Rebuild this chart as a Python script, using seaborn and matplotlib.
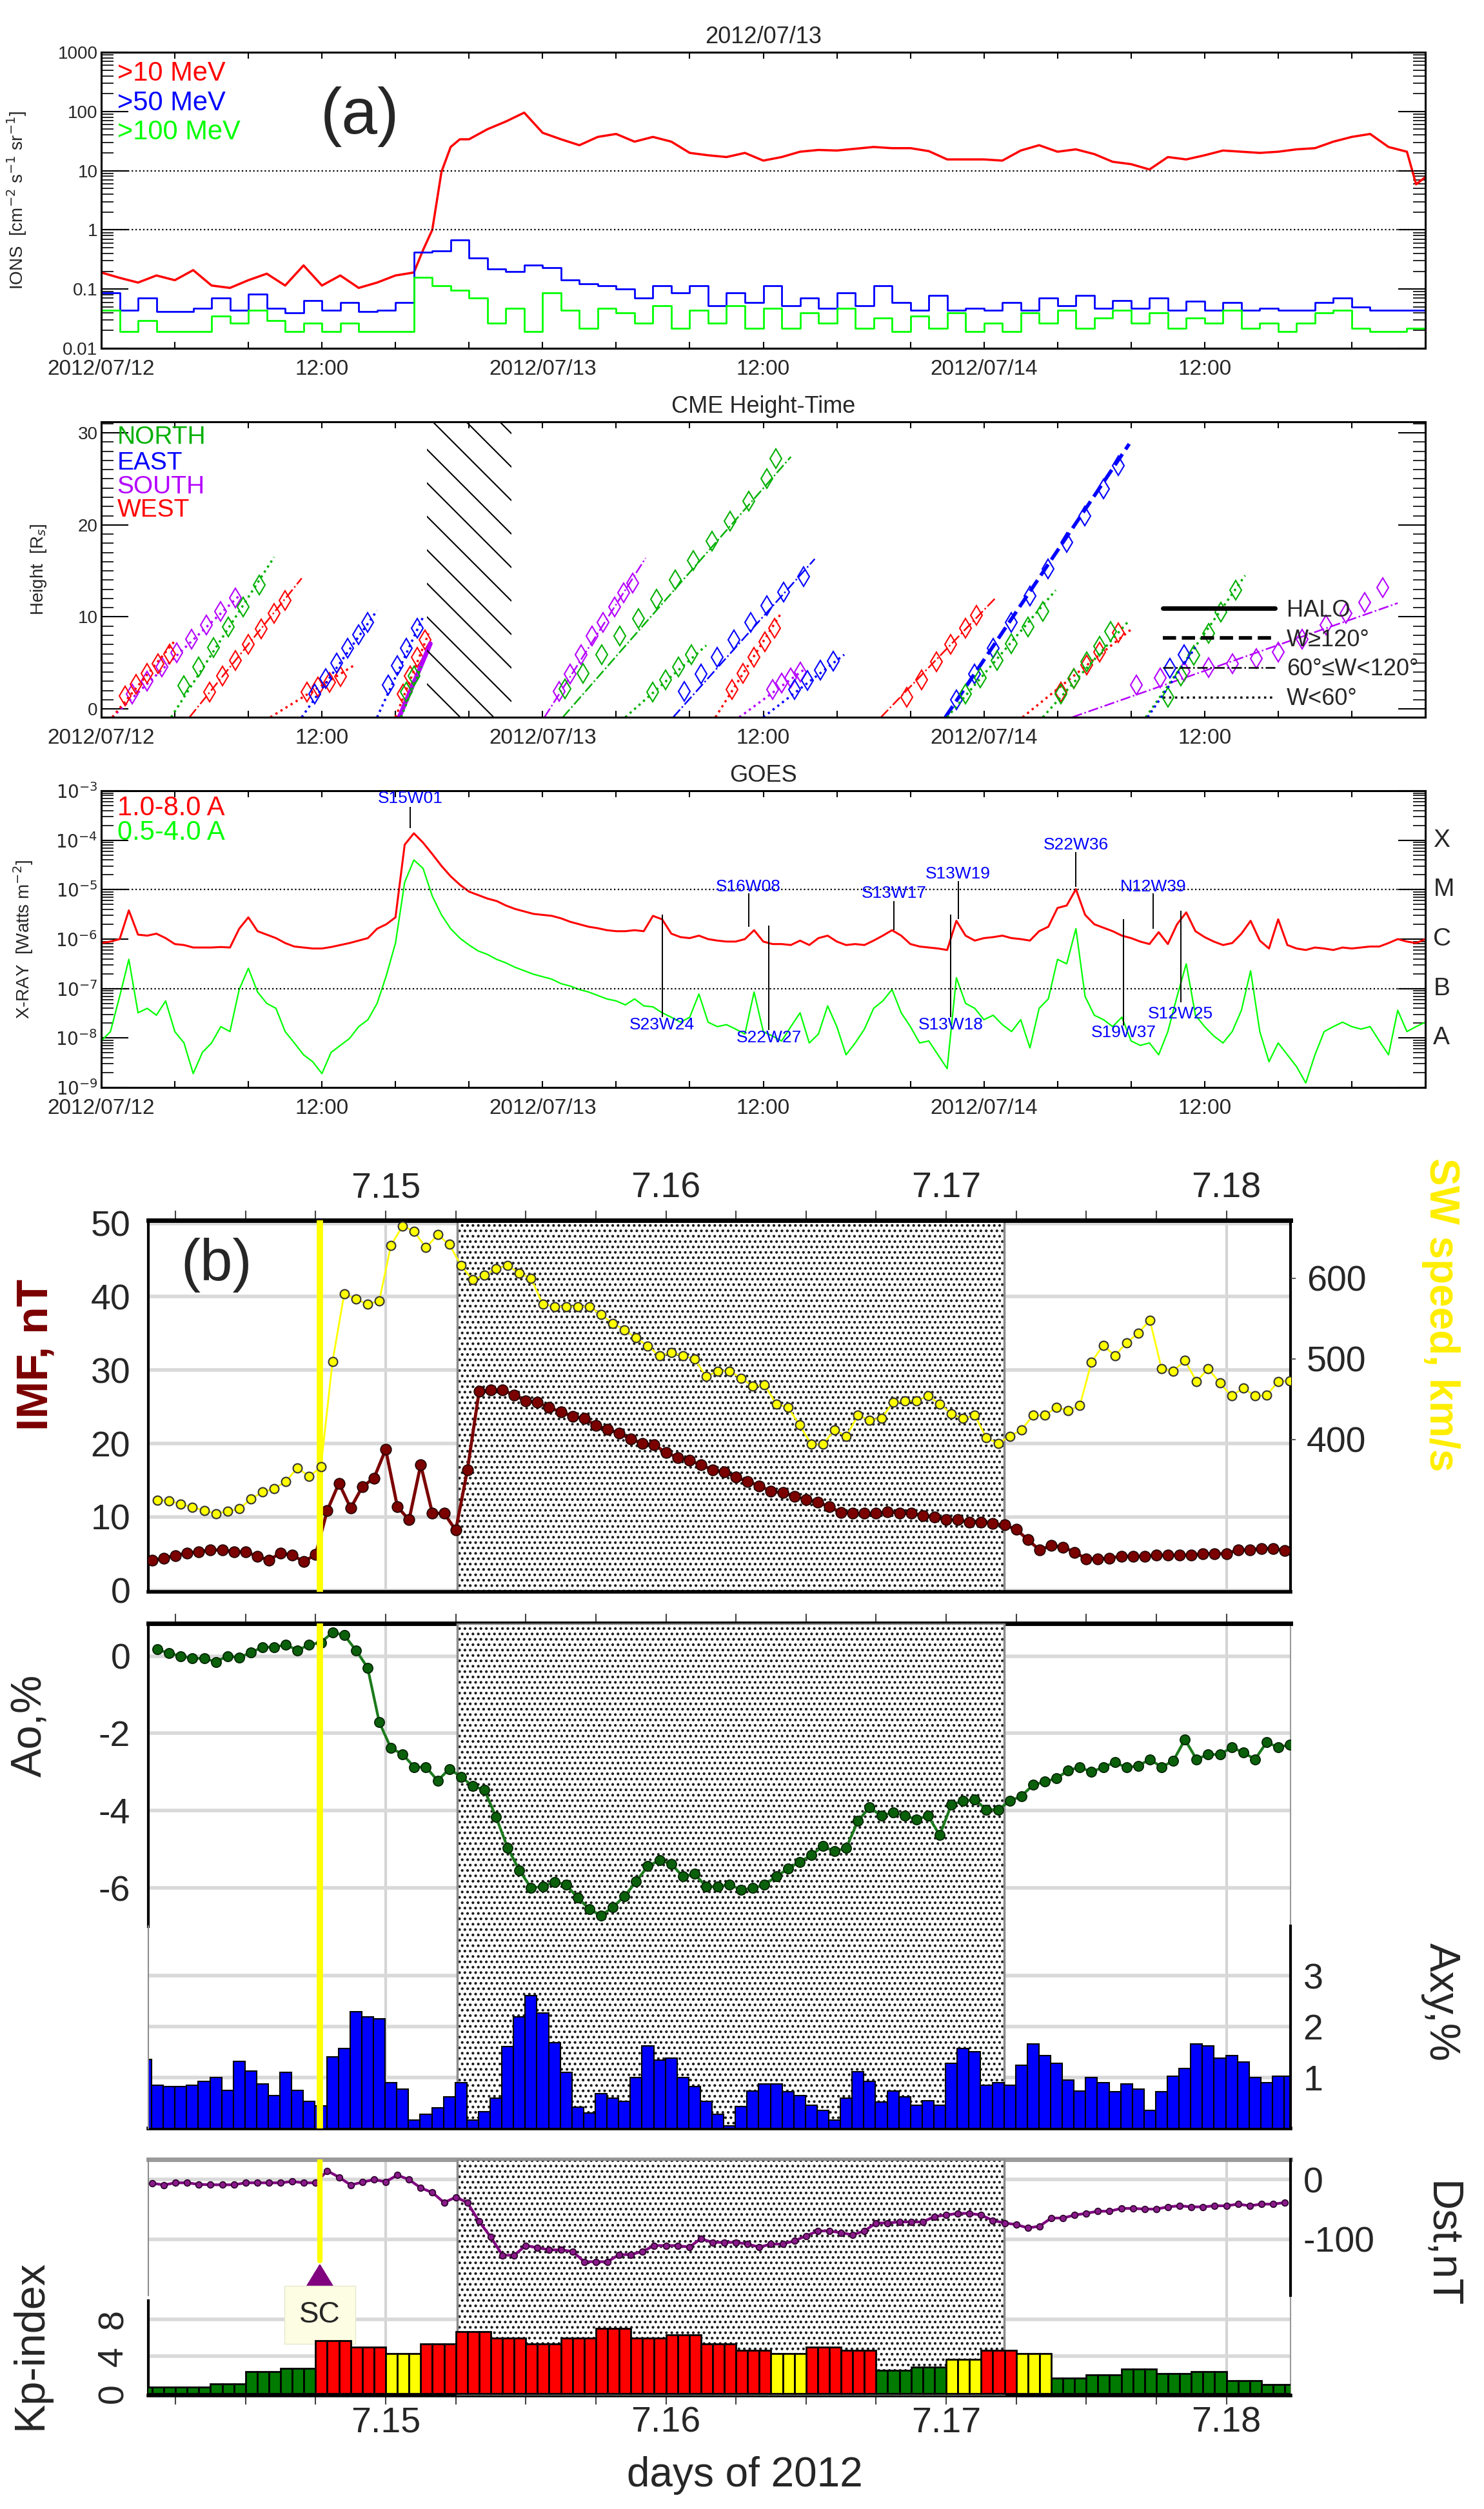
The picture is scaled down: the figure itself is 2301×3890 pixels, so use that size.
import numpy as np
import pandas as pd
import matplotlib.pyplot as plt
import matplotlib.transforms as mtransforms
from matplotlib.lines import Line2D
from matplotlib.patches import Rectangle
from matplotlib.ticker import MultipleLocator, NullFormatter
import seaborn as sns

# ---------------- panel (a) data : hours since 2012/07/12 00:00 ----------------
a_ticks = [0, 12, 24, 36, 48, 60, 72]
a_ticklabels = ['2012/07/12', '12:00', '2012/07/13', '12:00', '2012/07/14', '12:00', '']

# GOES protons (log10 of flux)
p10_hours = list(range(0, 18)) + [17.5, 18, 18.5, 19, 19.5] + list(range(20, 72)) + [71.5, 72]
p10_log = [-0.72, -0.81, -0.89, -0.77, -0.85, -0.68, -0.94, -0.98, -0.85, -0.74,
           -0.94, -0.60, -0.94, -0.77, -0.98, -0.89, -0.77, -0.72,
           -0.34, 0.0, 0.98, 1.40, 1.53,
           1.53, 1.70, 1.83, 1.98, 1.64, 1.53, 1.43, 1.57, 1.62, 1.49,
           1.57, 1.49, 1.30, 1.26, 1.23, 1.30, 1.17, 1.23, 1.32, 1.35,
           1.34, 1.37, 1.40, 1.38, 1.38, 1.33, 1.19, 1.19, 1.19, 1.17,
           1.34, 1.43, 1.32, 1.36, 1.28, 1.15, 1.11, 1.02, 1.23, 1.19,
           1.26, 1.34, 1.32, 1.30, 1.32, 1.36, 1.38, 1.49, 1.57, 1.62,
           1.40, 1.32,
           0.77, 0.89]
p_hours = list(range(0, 73))
p50_log = [-1.06, -1.36, -1.15, -1.38, -1.38, -1.32, -1.15, -1.36, -1.09, -1.32,
           -1.40, -1.19, -1.36, -1.23, -1.38, -1.36, -1.23, -0.38, -0.36, -0.17,
           -0.47, -0.66, -0.70, -0.60, -0.64, -0.85, -0.91, -0.94, -1.00, -1.15,
           -0.94, -1.06, -0.94, -1.28, -1.06, -1.23, -0.94, -1.28, -1.15, -1.32,
           -1.06, -1.28, -0.94, -1.23, -1.36, -1.11, -1.36, -1.32, -1.36, -1.23,
           -1.36, -1.15, -1.28, -1.11, -1.32, -1.19, -1.32, -1.15, -1.36, -1.21,
           -1.36, -1.23, -1.36, -1.32, -1.36, -1.36, -1.23, -1.15, -1.30, -1.36,
           -1.36, -1.36, -1.30]
p100_log = [-1.36, -1.72, -1.53, -1.72, -1.72, -1.72, -1.45, -1.57, -1.36, -1.53,
            -1.72, -1.57, -1.72, -1.57, -1.72, -1.72, -1.72, -0.80, -0.94, -1.02,
            -1.15, -1.57, -1.32, -1.72, -1.06, -1.36, -1.66, -1.32, -1.40, -1.57,
            -1.28, -1.66, -1.36, -1.57, -1.28, -1.66, -1.32, -1.66, -1.40, -1.57,
            -1.32, -1.66, -1.49, -1.72, -1.45, -1.66, -1.40, -1.72, -1.57, -1.72,
            -1.40, -1.57, -1.36, -1.66, -1.49, -1.36, -1.57, -1.40, -1.66, -1.49,
            -1.57, -1.36, -1.66, -1.57, -1.72, -1.57, -1.40, -1.36, -1.66, -1.72,
            -1.72, -1.66, -1.53]
ion_ticks = [0.01, 0.1, 1, 10, 100, 1000]
ion_ticklabels = ['0.01', '0.1', '1', '10', '100', '1000']

# GOES X-ray, half-hourly (log10 W m^-2)
xray_hours = np.arange(0, 72.5, 0.5)
xray_long_log = [-6.08, -6.05, -6.00, -5.42, -5.91, -5.93, -5.89, -5.98, -6.10, -6.12,
                 -6.17, -6.17, -6.17, -6.16, -6.17, -5.79, -5.56, -5.84, -5.91, -5.98,
                 -6.08, -6.15, -6.17, -6.19, -6.19, -6.16, -6.12, -6.08, -6.03, -5.98,
                 -5.79, -5.70, -5.56, -4.09, -3.86, -4.05, -4.28, -4.52, -4.73, -4.90,
                 -5.04, -5.11, -5.18, -5.23, -5.32, -5.39, -5.44, -5.49, -5.51, -5.53,
                 -5.58, -5.65, -5.70, -5.75, -5.78, -5.82, -5.84, -5.84, -5.82, -5.84,
                 -5.53, -5.60, -5.89, -5.96, -5.98, -5.93, -6.00, -6.03, -6.05, -6.05,
                 -6.00, -5.82, -6.05, -6.10, -6.10, -6.12, -6.03, -6.12, -5.98, -5.93,
                 -6.05, -6.12, -6.10, -6.12, -6.03, -5.93, -5.82, -5.93, -6.10, -6.15,
                 -6.17, -6.19, -6.22, -5.63, -5.93, -6.03, -5.98, -5.96, -5.93, -5.98,
                 -6.00, -6.03, -5.84, -5.75, -5.37, -5.32, -4.99, -5.51, -5.70, -5.77,
                 -5.84, -5.93, -5.98, -6.05, -6.10, -5.86, -6.10, -5.70, -5.46, -5.84,
                 -5.96, -6.05, -6.12, -6.08, -5.89, -5.63, -6.03, -6.19, -5.60, -6.12,
                 -6.19, -6.22, -6.17, -6.19, -6.22, -6.17, -6.19, -6.17, -6.15, -6.15,
                 -6.08, -6.00, -6.05, -6.08, -6.00]
xray_short_log = [-8.06, -7.87, -7.16, -6.41, -7.49, -7.40, -7.54, -7.25, -7.87, -8.10,
                  -8.72, -8.29, -8.10, -7.77, -7.87, -7.02, -6.59, -7.07, -7.30, -7.40,
                  -7.87, -8.10, -8.34, -8.48, -8.72, -8.29, -8.15, -8.01, -7.77, -7.63,
                  -7.30, -6.74, -6.08, -4.85, -4.40, -4.57, -5.13, -5.51, -5.79, -5.98,
                  -6.12, -6.24, -6.31, -6.41, -6.48, -6.57, -6.64, -6.71, -6.76, -6.81,
                  -6.90, -6.95, -7.02, -7.07, -7.14, -7.21, -7.25, -7.33, -7.21, -7.35,
                  -7.37, -7.49, -7.58, -7.68, -7.58, -7.11, -7.68, -7.77, -7.73, -7.82,
                  -7.92, -7.07, -7.87, -7.96, -8.06, -7.77, -7.49, -8.10, -7.92, -7.35,
                  -7.77, -8.34, -8.10, -7.82, -7.40, -7.25, -7.02, -7.49, -7.77, -8.10,
                  -8.06, -8.34, -8.62, -6.78, -7.30, -7.40, -7.63, -7.54, -7.73, -7.87,
                  -7.63, -8.20, -7.40, -7.21, -6.41, -6.50, -5.79, -7.16, -7.54, -7.63,
                  -7.77, -7.58, -8.06, -8.15, -8.10, -8.34, -7.87, -7.16, -6.50, -7.54,
                  -7.77, -7.96, -8.10, -7.87, -7.44, -6.64, -7.87, -8.48, -8.10, -8.34,
                  -8.58, -8.91, -8.34, -7.87, -7.77, -7.68, -7.77, -7.82, -7.77, -8.06,
                  -8.34, -7.44, -7.87, -7.77, -7.68]
goes_ticks = [1e-9, 1e-8, 1e-7, 1e-6, 1e-5, 1e-4, 1e-3]
goes_ticklabels = ['$10^{-9}$', '$10^{-8}$', '$10^{-7}$', '$10^{-6}$', '$10^{-5}$', '$10^{-4}$', '$10^{-3}$']
goes_classes = ['A', 'B', 'C', 'M', 'X']
goes_class_flux = [1e-8, 1e-7, 1e-6, 1e-5, 1e-4]

# flare locations: name, time, label level, connector from/to (log10 flux)
flare_names = ['S15W01', 'S16W08', 'S13W17', 'S13W19', 'S22W36', 'N12W39',
               'S23W24', 'S22W27', 'S13W18', 'S19W37', 'S12W25']
flare_t = [16.8, 35.2, 43.1, 46.6, 53.0, 57.2, 30.5, 36.3, 46.2, 55.6, 58.7]
flare_label_log = [-3.15, -4.94, -5.08, -4.68, -4.09, -4.94, -7.73, -7.99, -7.73, -7.89, -7.51]
flare_line_from = [-3.32, -5.08, -5.23, -4.83, -4.24, -5.08, -7.58, -7.84, -7.58, -7.75, -7.28]
flare_line_to = [-3.76, -5.75, -5.82, -5.60, -4.94, -5.79, -5.51, -5.72, -5.51, -5.60, -5.42]

# CME height-time tracks (hours, solar radii)
cme_region = ['S', 'W', 'N', 'W', 'W', 'E', 'E', 'W', 'S', 'N', 'S', 'N', 'N',
              'E', 'W', 'S', 'E', 'W', 'E', 'N', 'W', 'N', 'S', 'N', 'E']
cme_width = ['narrow', 'narrow', 'narrow', 'mid', 'narrow', 'narrow', 'narrow', 'narrow',
             'halo', 'narrow', 'mid', 'mid', 'narrow', 'mid', 'narrow', 'narrow', 'narrow',
             'mid', 'wide', 'narrow', 'narrow', 'narrow', 'mid', 'narrow', 'narrow']
cme_obs_t = [[1.7, 2.5, 3.3, 4.1, 4.9, 5.7, 6.5, 7.3],
             [1.3, 1.9, 2.5, 3.1, 3.7],
             [4.5, 5.3, 6.1, 6.9, 7.7, 8.6],
             [5.9, 6.6, 7.3, 8.0, 8.7, 9.4, 10.0],
             [11.2, 11.8, 12.4, 13.0],
             [11.6, 12.2, 12.8, 13.4, 14.0, 14.5],
             [15.6, 16.1, 16.6, 17.2],
             [16.4, 16.8, 17.2, 17.6],
             [],
             [16.6, 17.0],
             [24.9, 25.5, 26.1, 26.7, 27.3, 27.9, 28.4, 28.9],
             [25.2, 26.2, 27.2, 28.2, 29.2, 30.2, 31.2, 32.2, 33.2, 34.2, 35.2, 36.2, 36.7],
             [30.0, 30.7, 31.4, 32.1],
             [31.7, 32.6, 33.5, 34.4, 35.3, 36.2, 37.1, 38.2],
             [34.3, 34.9, 35.5, 36.1, 36.6],
             [36.5, 37.0, 37.5, 38.0],
             [37.7, 38.4, 39.1, 39.8],
             [43.8, 44.6, 45.4, 46.2, 47.0, 47.6],
             [46.5, 47.5, 48.5, 49.5, 50.5, 51.5, 52.5, 53.5, 54.5, 55.3],
             [47.0, 47.8, 48.7, 49.5, 50.4, 51.2],
             [52.2, 52.9, 53.6, 54.3, 55.3],
             [52.2, 52.9, 53.6, 54.3, 54.9],
             [56.3, 57.6, 58.9, 60.2, 61.5, 62.8, 64.0, 65.3, 66.6, 67.7, 68.7, 69.7],
             [58.0, 58.7, 59.4, 60.2, 60.9, 61.7],
             [58.1, 58.9]]
cme_obs_h = [[1.6, 3.0, 4.6, 6.1, 7.6, 9.1, 10.6, 12.1],
             [1.4, 2.7, 3.9, 4.9, 6.0],
             [2.5, 4.6, 6.7, 8.9, 11.1, 13.5],
             [1.8, 3.6, 5.3, 7.0, 8.7, 10.4, 11.8],
             [1.8, 2.4, 2.9, 3.5],
             [1.6, 3.3, 5.0, 6.6, 8.1, 9.4],
             [2.6, 4.7, 6.6, 8.8],
             [1.6, 3.6, 5.6, 7.5],
             [],
             [1.8, 3.6],
             [1.9, 3.8, 5.9, 7.9, 9.4, 11.1, 12.6, 13.7],
             [2.2, 3.9, 5.9, 7.9, 9.8, 11.9, 14.0, 16.1, 18.2, 20.4, 22.6, 25.0, 27.2],
             [1.8, 3.2, 4.6, 5.9],
             [1.9, 3.8, 5.6, 7.5, 9.4, 11.2, 12.7, 14.4],
             [2.1, 3.9, 5.6, 7.3, 8.8],
             [2.1, 2.8, 3.4, 4.0],
             [2.1, 3.1, 4.2, 5.2],
             [1.3, 3.2, 5.1, 7.0, 8.8, 10.2],
             [1.0, 3.8, 6.6, 9.4, 12.3, 15.2, 18.1, 21.0, 23.9, 26.4],
             [1.6, 3.4, 5.3, 7.1, 8.9, 10.6],
             [1.8, 3.3, 4.8, 6.2, 8.3],
             [1.6, 3.3, 5.1, 6.8, 8.4],
             [2.6, 3.4, 4.1, 4.5, 4.9, 5.5, 6.2, 7.6, 9.1, 10.4, 11.6, 13.2],
             [1.3, 3.6, 5.8, 8.2, 10.5, 12.9],
             [4.4, 5.9]]
cme_fit_t = [[0.6, 7.5], [0.6, 4.0], [3.8, 9.4], [4.8, 10.9], [9.2, 13.8], [10.9, 15.0],
             [15.0, 17.5], [16.0, 17.8], [16.2, 17.9], [16.3, 17.4], [24.1, 29.6], [25.1, 37.5],
             [28.5, 32.9], [31.1, 38.8], [33.4, 37.0], [34.7, 38.3], [36.0, 40.4], [42.4, 48.6],
             [45.9, 55.9], [46.0, 51.9], [50.1, 56.1], [51.2, 55.8], [52.8, 70.5], [56.8, 62.2],
             [56.9, 59.5]]
cme_fit_h = [[-0.9, 12.3], [-0.9, 7.4], [-0.9, 16.5], [-0.9, 14.2], [-0.9, 4.8], [-0.9, 10.7],
             [-0.9, 10.0], [-0.9, 8.2], [-0.9, 7.1], [-0.9, 4.6], [-0.9, 16.4], [-0.9, 27.4],
             [-0.9, 6.9], [-0.9, 16.3], [-0.9, 10.5], [-0.9, 4.4], [-0.9, 5.9], [-0.9, 12.0],
             [-0.9, 28.8], [-0.9, 12.9], [-0.9, 8.8], [-0.9, 9.4], [-0.9, 11.5], [-0.9, 14.5],
             [-0.9, 6.7]]
lasco_gap = (17.7, 22.3)
region_names = ['NORTH', 'EAST', 'SOUTH', 'WEST']
region_keys = ['N', 'E', 'S', 'W']
width_keys = ['halo', 'wide', 'mid', 'narrow']
width_names = ['HALO', 'W\u2265120\u00b0', '60\u00b0\u2264W<120\u00b0', 'W<60\u00b0']

# ---------------- panel (b) data : day of July 2012 ----------------
day_ticks = [15, 16, 17, 18]
day_labels = ['7.15', '7.16', '7.17', '7.18']
storm = (15.255, 17.206)
sc_time = 14.765

imf_nt = [4.1, 4.4, 4.75, 5.1, 5.25, 5.5, 5.5, 5.25, 5.25, 4.65,
          4.1, 5.1, 4.8, 3.9, 4.9, 10.9, 14.6, 11.2, 14.1, 15.3,
          19.2, 11.4, 9.6, 17.1, 10.5, 10.5, 8.2, 16.4, 27.1, 27.3,
          27.3, 26.6, 25.8, 25.6, 24.9, 24.3, 23.7, 23.4, 22.5, 21.9,
          21.4, 20.6, 20.0, 19.8, 18.8, 18.1, 17.7, 17.1, 16.4, 16.1,
          15.4, 14.85, 14.25, 13.5, 13.3, 12.8, 12.4, 12.0, 11.4, 10.6,
          10.5, 10.5, 10.5, 10.7, 10.5, 10.5, 10.2, 10.0, 9.6, 9.6,
          9.3, 9.3, 9.1, 8.9, 8.3, 6.9, 5.5, 6.1, 5.9, 5.2,
          4.3, 4.3, 4.4, 4.65, 4.65, 4.65, 4.8, 4.8, 4.8, 4.8,
          5.0, 5.0, 5.0, 5.5, 5.5, 5.7, 5.7, 5.4]
sw_speed = [325, 324, 320, 316, 312, 308, 311, 314, 326, 335,
            339, 348, 365, 354, 366, 497, 581, 574, 568, 572,
            641, 665, 658, 638, 654, 642, 616, 598, 604, 612,
            616, 606, 600, 568, 565, 565, 565, 565, 555, 544,
            536, 526, 516, 504, 508, 504, 500, 478, 485, 485,
            476, 466, 468, 444, 440, 418, 394, 394, 412, 404,
            430, 424, 426, 446, 448, 448, 454, 444, 432, 426,
            430, 402, 395, 404, 412, 430, 430, 440, 436, 442,
            496, 517, 504, 520, 532, 548, 488, 485, 498, 472,
            488, 470, 454, 464, 454, 455, 472, 473]
ao_pct = [0.17, 0.07, 0.0, -0.06, -0.06, -0.15, 0.0, -0.04, 0.09, 0.23,
          0.23, 0.29, 0.15, 0.29, 0.35, 0.61, 0.54, 0.15, -0.30, -1.71,
          -2.38, -2.54, -2.87, -2.87, -3.22, -2.92, -3.12, -3.36, -3.46, -4.16,
          -4.96, -5.54, -5.99, -5.96, -5.84, -5.91, -6.25, -6.54, -6.71, -6.49,
          -6.21, -5.83, -5.43, -5.28, -5.37, -5.70, -5.63, -5.96, -5.96, -5.91,
          -6.04, -6.00, -5.91, -5.70, -5.50, -5.32, -5.15, -4.91, -5.05, -4.96,
          -4.26, -3.91, -4.13, -4.04, -4.13, -4.22, -4.13, -4.63, -3.84, -3.75,
          -3.71, -3.97, -3.97, -3.75, -3.62, -3.33, -3.25, -3.16, -2.96, -2.87,
          -3.00, -2.87, -2.75, -2.88, -2.84, -2.67, -2.87, -2.71, -2.16, -2.67,
          -2.54, -2.55, -2.36, -2.49, -2.67, -2.23, -2.36, -2.29]
axy_pct = [1.36,
           0.85, 0.82, 0.82, 0.85, 0.93, 1.0, 0.75, 1.32, 1.13, 0.88,
           0.65, 1.10, 0.75, 0.53, 0.44, 1.41, 1.57, 2.30, 2.20, 2.15,
           0.90, 0.77, 0.16, 0.28, 0.41, 0.62, 0.90, 0.16, 0.33, 0.59,
           1.61, 2.20, 2.61, 2.27, 1.69, 1.10, 0.42, 0.30, 0.68, 0.59,
           0.53, 1.0, 1.62, 1.35, 1.38, 1.0, 0.82, 0.53, 0.28, 0.05,
           0.43, 0.74, 0.87, 0.87, 0.72, 0.65, 0.46, 0.36, 0.16, 0.59,
           1.12, 0.93, 0.52, 0.74, 0.62, 0.46, 0.55, 0.46, 1.28, 1.57,
           1.51, 0.85, 0.90, 0.85, 1.24, 1.66, 1.43, 1.28, 0.95, 0.74,
           1.0, 0.90, 0.72, 0.87, 0.77, 0.36, 0.72, 1.03, 1.18, 1.66,
           1.62, 1.38, 1.43, 1.31, 1.0, 0.90, 1.03, 1.03]
dst_nt = [-6, -9, -5.4, -5.4, -8, -8.7, -8.7, -8.7, -5.4, -5.4,
          -5.4, -5.4, -3.2, -5.4, -5.4, 14.8, 4, -9, -4.3, 0,
          -3.6, 7.6, 0, -14, -21.7, -38.6, -29.6, -38.6, -70.4, -96.4,
          -127, -127, -110.8, -114.4, -118, -118, -120.6, -137.9, -137.9, -137.9,
          -126, -126, -120.6, -110.8, -110.8, -110.8, -113.4, -99.3, -105.4, -105.4,
          -105.4, -108.3, -113.4, -108.3, -108.3, -102.9, -94.6, -86.3, -86.3, -89.2,
          -92.8, -86.3, -72.9, -72.9, -71.1, -71.1, -71.1, -62.1, -59.6, -56.7,
          -56.7, -59.6, -68.6, -72.9, -75.5, -81.2, -78.3, -64.6, -64.6, -59.6,
          -56.7, -53.1, -53.1, -48.4, -48.4, -49.5, -49.5, -45.8, -44.0, -45.8,
          -45.8, -44.0, -44.0, -41.2, -44.0, -41.2, -41.2, -38.6]
# 3-hour Kp, from 14 July 03 UT
kp_index = [0.67, 0.67, 1.0, 2.33, 2.67, 5.67, 5.0,
            4.33, 5.33, 6.67, 6.0, 5.33, 6.0, 7.0, 6.0,
            6.33, 5.33, 4.67, 4.33, 5.0, 4.67, 2.5, 2.84,
            3.67, 4.67, 4.33, 1.67, 2.0, 2.6, 2.14, 2.37,
            1.4, 0.93]

# ---------------- style ----------------
sns.set_theme(style='white')
plt.rcParams['font.family'] = ['Liberation Sans', 'DejaVu Sans']
plt.rcParams['axes.unicode_minus'] = False
plt.rcParams['hatch.linewidth'] = 1.8

W, H = 2301, 3890
fig = plt.figure(figsize=(W / 100, H / 100), dpi=100)


def frame(left, top, right, bottom):
    return [left / W, 1 - bottom / H, (right - left) / W, (bottom - top) / H]


def style_idl(ax):
    ax.set_xlim(0, 72)
    ax.set_xticks(a_ticks, labels=a_ticklabels)
    ax.set_xticks(range(0, 73, 4), minor=True)
    ax.tick_params(axis='x', which='both', direction='in', top=True, bottom=True,
                   length=7, width=1.5, color='black', labelsize=24, pad=12)
    ax.tick_params(axis='y', which='major', direction='in', left=True, right=True,
                   length=30, width=1.5, color='black', labelsize=20, pad=4)
    ax.tick_params(axis='y', which='minor', direction='in', left=True, right=True,
                   length=14, width=1.2, color='black')
    for sp in ax.spines.values():
        sp.set_color('black')
        sp.set_linewidth(2.2)


def line(ax, x, y, **kw):
    sns.lineplot(x=np.asarray(x, float), y=np.asarray(y, float), ax=ax,
                 estimator=None, errorbar=None, sort=False, **kw)


# ---------------- (a) ions ----------------
ax_ion = fig.add_axes(frame(157, 81, 2210, 540))
line(ax_ion, p10_hours, 10.0 ** np.array(p10_log), color='#ff0000', linewidth=2.5)
line(ax_ion, p_hours, 10.0 ** np.array(p50_log), color='#0000ff', linewidth=2, drawstyle='steps-post')
line(ax_ion, p_hours, 10.0 ** np.array(p100_log), color='#00ff00', linewidth=2, drawstyle='steps-post')
ax_ion.set_yscale('log')
ax_ion.set_ylim(0.01, 1000)
ax_ion.set_yticks(ion_ticks, labels=ion_ticklabels)
ax_ion.yaxis.set_minor_formatter(NullFormatter())
for lev in [1, 10]:
    ax_ion.axhline(lev, color='black', ls=':', lw=1.6)
style_idl(ax_ion)
ax_ion.set_title('2012/07/13', fontsize=26, pad=10)
ax_ion.set_ylabel('IONS  [cm$^{-2}$ s$^{-1}$ sr$^{-1}$]', fontsize=20)
ax_ion.yaxis.set_label_coords(-0.055, 0.5)
for txt, yy, col in zip(['>10 MeV', '>50 MeV', '>100 MeV'], [0.928, 0.828, 0.73],
                        ['#ff0000', '#0000ff', '#00ff00']):
    ax_ion.text(0.012, yy, txt, color=col, fontsize=30, transform=ax_ion.transAxes, va='center')
fig.text(558 / W, 1 - 181 / H, '(a)', fontsize=72, ha='center', va='center')

# ---------------- (a) CME height-time ----------------
region_color = dict(zip(region_keys, ['#00b000', '#0000ff', '#b400ff', '#ff0000']))
width_style = dict(zip(width_keys, [('-', 5), ('--', 4), ('-.', 1.8), (':', 2.5)]))

ax_cme = fig.add_axes(frame(157, 654, 2210, 1112))
for reg, wid, ot, oh, ft, fh in zip(cme_region, cme_width, cme_obs_t, cme_obs_h, cme_fit_t, cme_fit_h):
    col = region_color[reg]
    ls, lw = width_style[wid]
    ax_cme.plot(ft, fh, color=col, ls=ls, lw=lw)
    if ot:
        ax_cme.plot(ot, oh, ls='none', marker='d', ms=15, mfc='none', mec=col, mew=1.5)

# data gap hatching
gap_box = Rectangle((lasco_gap[0], -0.9), lasco_gap[1] - lasco_gap[0], 32.1, fill=False, lw=0)
ax_cme.add_patch(gap_box)
span = lasco_gap[1] - lasco_gap[0]
for c in np.arange(-0.9, 31.2 + 2.0 * span, 3.64):
    ln, = ax_cme.plot(lasco_gap, [c, c - 2.0 * span], color='black', lw=1.5)
    ln.set_clip_path(gap_box)

ax_cme.set_ylim(-0.9, 31.2)
ax_cme.set_yticks([0, 10, 20, 30])
ax_cme.yaxis.set_minor_locator(MultipleLocator(1))
style_idl(ax_cme)
ax_cme.set_title('CME Height-Time', fontsize=26, pad=10)
ax_cme.set_ylabel('Height  [R$_s$]', fontsize=20)
ax_cme.yaxis.set_label_coords(-0.04, 0.5)
for name, key, yy in zip(region_names, region_keys, [0.948, 0.86, 0.78, 0.70]):
    ax_cme.text(0.012, yy, name, color=region_color[key], fontsize=28,
                transform=ax_cme.transAxes, va='center')
handles = [Line2D([], [], color='black', ls=width_style[k][0], lw=width_style[k][1]) for k in width_keys]
ax_cme.legend(handles, width_names, loc='lower right', frameon=False, fontsize=26,
              handlelength=4.8, handletextpad=0.5, labelspacing=0.3,
              borderaxespad=0.1, borderpad=0.2)

# ---------------- (a) GOES X-ray ----------------
ax_goes = fig.add_axes(frame(157, 1226, 2210, 1686))
line(ax_goes, xray_hours, 10.0 ** np.array(xray_long_log), color='#ff0000', linewidth=2.2)
line(ax_goes, xray_hours, 10.0 ** np.array(xray_short_log), color='#00ff00', linewidth=1.6)
ax_goes.set_yscale('log')
ax_goes.set_ylim(1e-9, 1e-3)
ax_goes.set_yticks(goes_ticks, labels=goes_ticklabels)
ax_goes.yaxis.set_minor_formatter(NullFormatter())
for lev in [1e-5, 1e-7]:
    ax_goes.axhline(lev, color='black', ls=':', lw=1.6)
for name, t, ty, y0, y1 in zip(flare_names, flare_t, flare_label_log, flare_line_from, flare_line_to):
    ax_goes.vlines(t, 10.0 ** y0, 10.0 ** y1, color='black', lw=1.4)
    ax_goes.text(t, 10.0 ** ty, name, color='#0000ff', fontsize=19, ha='center', va='center')
style_idl(ax_goes)
ax_goes.set_title('GOES', fontsize=26, pad=10)
ax_goes.set_ylabel('X-RAY  [Watts m$^{-2}$]', fontsize=20)
ax_goes.yaxis.set_label_coords(-0.05, 0.5)
blend_g = mtransforms.blended_transform_factory(ax_goes.transAxes, ax_goes.transData)
for letter, flux in zip(goes_classes, goes_class_flux):
    ax_goes.text(1.006, flux, letter, transform=blend_g, fontsize=28, va='center', ha='left')
ax_goes.text(0.012, 0.941, '1.0-8.0 A', color='#ff0000', fontsize=30, transform=ax_goes.transAxes, va='center')
ax_goes.text(0.012, 0.859, '0.5-4.0 A', color='#00ff00', fontsize=30, transform=ax_goes.transAxes, va='center')

# ---------------- (b) helpers ----------------
b_xlim = (14.153, 18.229)
quarter_ticks = np.arange(14.25, 18.24, 0.25)
grid_kw = dict(color='#d9d9d9', linewidth=4)
sc_yellow = '#ffff00'


def shade_storm(ax):
    ax.axvspan(*storm, facecolor='white', hatch='..', edgecolor='#1a1a1a', linewidth=0, zorder=1)
    ax.axvspan(*storm, facecolor='none', edgecolor='#8c8c8c', linewidth=2.5, zorder=1.1)


def hide_spines(ax):
    for sp in ax.spines.values():
        sp.set_visible(False)


t_hour = 14 + (4 + np.arange(len(imf_nt))) / 24
t_half = 14 + (4.45 + np.arange(len(sw_speed))) / 24
t_axy = 14 + (3.45 + np.arange(len(axy_pct))) / 24

# ---------------- (b) IMF / SW ----------------
ax_imf = fig.add_axes(frame(230, 1892, 2001, 2468))
ax_imf.set_axisbelow(True)
ax_imf.grid(True, axis='y', **grid_kw)
ax_imf.grid(True, axis='x', color='#d4d4d4', linewidth=3)
shade_storm(ax_imf)
line(ax_imf, t_hour, imf_nt, color='#7b0000', linewidth=3.5, marker='o', markersize=12,
     markerfacecolor='#7b0000', markeredgecolor='#200000', markeredgewidth=1.2, zorder=3)
ax_imf.set_ylim(-0.2, 50.4)
ax_imf.set_yticks(range(0, 51, 10))
ax_imf.xaxis.tick_top()
ax_imf.set_xticks(day_ticks, labels=day_labels)
ax_imf.set_xticks(quarter_ticks, minor=True)
ax_imf.tick_params(axis='x', which='both', top=True, bottom=False, direction='out', length=11,
                   width=1.5, color='#444444', labelsize=40, pad=6)
ax_imf.tick_params(axis='y', left=False, length=0, labelsize=40, pad=20)
for side, lw in zip(['top', 'bottom', 'left', 'right'], [5, 4, 3, 3]):
    ax_imf.spines[side].set_color('black')
    ax_imf.spines[side].set_linewidth(lw)

ax_sw = ax_imf.twinx()
hide_spines(ax_sw)
ax_sw.axvline(sc_time, color=sc_yellow, lw=7, zorder=1)
line(ax_sw, t_half, sw_speed, color='#ffff00', linewidth=2, marker='o', markersize=10,
     markerfacecolor='#ffff00', markeredgecolor='#333333', markeredgewidth=1.5, zorder=3)
ax_sw.set_ylim(211, 672)
ax_sw.set_yticks([400, 500, 600])
ax_sw.tick_params(axis='y', right=True, length=6, color='#444444', labelsize=40, pad=12)
ax_sw.set_ylabel('')
ax_imf.set_ylabel('')
fig.text(55 / W, 1 - 2100 / H, 'IMF, nT', rotation=90, color='#7b0000', fontsize=50,
         fontweight='bold', ha='center', va='center')
fig.text(2234 / W, 1 - 2038 / H, 'SW speed, km/s', rotation=270, color='#ffee00', fontsize=46,
         fontweight='bold', ha='center', va='center')
fig.text(336 / W, 1 - 1962 / H, '(b)', fontsize=65, ha='center', va='center')

# ---------------- (b) Ao / Axy ----------------
ax_ao = fig.add_axes(frame(230, 2517, 2001, 3300))
ax_ao.set_axisbelow(True)
ax_ao.set_ylim(-12.21, 0.842)
ax_ao.set_yticks([0, -2, -4, -6])
ax_ao.grid(True, axis='y', **grid_kw)
ax_ao.grid(True, axis='x', color='#d4d4d4', linewidth=3)
ax_ao.xaxis.tick_top()
ax_ao.set_xticks(day_ticks)
ax_ao.set_xticks(quarter_ticks, minor=True)
ax_ao.tick_params(axis='x', which='both', top=True, bottom=False, labeltop=False, direction='out',
                  length=11, width=1.5, color='#444444')
ax_ao.tick_params(axis='y', left=False, length=0, labelsize=40, pad=20)
ax_ao.spines['top'].set_linewidth(5)
ax_ao.spines['bottom'].set_linewidth(4)
ax_ao.spines['left'].set_linewidth(3)
ax_ao.spines['left'].set_bounds(-7.0, 0.842)
ax_ao.spines['right'].set_linewidth(1.5)
ax_ao.spines['right'].set_color('#9a9a9a')
for side in ['top', 'bottom', 'left']:
    ax_ao.spines[side].set_color('black')

ax_axy = ax_ao.twinx()
hide_spines(ax_axy)
ax_axy.set_axisbelow(True)
ax_axy.set_ylim(0, 9.93)
ax_axy.set_yticks([1, 2, 3])
ax_axy.grid(True, axis='y', **grid_kw)
shade_storm(ax_axy)
sns.barplot(x=t_axy, y=axy_pct, native_scale=True, width=1.0, color='#0000ff', saturation=1,
            edgecolor='black', linewidth=1.5, errorbar=None, ax=ax_axy, zorder=2)
ax_axy.set_ylim(0, 9.93)
ax_axy.set_xlabel('')
ax_axy.set_ylabel('')
ax_axy.spines['right'].set_visible(True)
ax_axy.spines['right'].set_color('black')
ax_axy.spines['right'].set_linewidth(3)
ax_axy.spines['right'].set_bounds(0, 3.98)
ax_axy.spines['left'].set_visible(True)
ax_axy.spines['left'].set_color('#8c8c8c')
ax_axy.spines['left'].set_linewidth(1.5)
ax_axy.spines['left'].set_bounds(0, 3.98)
ax_axy.tick_params(axis='y', right=True, left=False, labelright=True, length=0, labelsize=40, pad=14)

ax_aol = ax_ao.twinx()
hide_spines(ax_aol)
ax_aol.set_ylim(-12.21, 0.842)
ax_aol.set_yticks([])
line(ax_aol, t_half, ao_pct, color='#1b7a1b', linewidth=3, marker='o', markersize=11,
     markerfacecolor='#0b600b', markeredgecolor='#002000', markeredgewidth=1.2, zorder=3)
ax_aol.axvline(sc_time, color=sc_yellow, lw=7, zorder=4)
ax_aol.set_ylabel('')
fig.text(47 / W, 1 - 2675 / H, 'Ao,%', rotation=90, fontsize=48, ha='center', va='center')
fig.text(2234 / W, 1 - 3104 / H, 'Axy,%', rotation=270, fontsize=48, ha='center', va='center')

# ---------------- (b) Dst / Kp ----------------
kp_hourly = np.repeat(kp_index, 3)
kp_t = 14 + (3.5 + np.arange(len(kp_hourly))) / 24
kp_level = np.where(kp_hourly >= 4.5, 'storm', np.where(kp_hourly >= 3.5, 'active', 'quiet'))
kp_df = pd.DataFrame({'t': kp_t, 'kp': kp_hourly, 'level': kp_level})

ax_kp = fig.add_axes(frame(230, 3348, 2001, 3714))
ax_kp.set_axisbelow(True)
ax_kp.set_ylim(-0.23, 25.3)
ax_kp.set_yticks([0, 4, 8])
ax_kp.grid(True, axis='y', **grid_kw)
ax_kp.grid(True, axis='x', color='#d4d4d4', linewidth=3)
ax_kp.set_xticks(day_ticks, labels=day_labels)
ax_kp.set_xticks(quarter_ticks, minor=True)
ax_kp.tick_params(axis='x', which='both', bottom=True, top=False, direction='out', length=10,
                  width=1.5, color='#444444', labelsize=40, pad=2)
ax_kp.tick_params(axis='y', left=False, length=0, labelsize=40, pad=20, labelrotation=90)
for lab in ax_kp.get_yticklabels():
    lab.set_va('center')
ax_kp.spines['left'].set_color('black')
ax_kp.spines['left'].set_linewidth(3)
ax_kp.spines['left'].set_bounds(-0.23, 10.0)
ax_kp.spines['bottom'].set_color('black')
ax_kp.spines['bottom'].set_linewidth(4)
ax_kp.spines['top'].set_color('#9a9a9a')
ax_kp.spines['top'].set_linewidth(5)
ax_kp.spines['right'].set_color('#9a9a9a')
ax_kp.spines['right'].set_linewidth(1.5)

ax_dst = ax_kp.twinx()
hide_spines(ax_dst)
ax_dst.set_axisbelow(True)
ax_dst.set_ylim(-362.6, 33.9)
ax_dst.set_yticks([0, -100])
ax_dst.grid(True, axis='y', **grid_kw)
shade_storm(ax_dst)
line(ax_dst, t_hour, dst_nt, color='#800080', linewidth=3, marker='o', markersize=7,
     markerfacecolor='#8a1a8a', markeredgecolor='#2a002a', markeredgewidth=1.2, zorder=3)
ax_dst.set_ylabel('')
ax_dst.spines['right'].set_visible(True)
ax_dst.spines['right'].set_color('black')
ax_dst.spines['right'].set_linewidth(3)
ax_dst.spines['right'].set_bounds(-195, 33.9)
ax_dst.spines['left'].set_visible(True)
ax_dst.spines['left'].set_color('#8c8c8c')
ax_dst.spines['left'].set_linewidth(1.5)
ax_dst.spines['left'].set_bounds(-195, 33.9)
ax_dst.tick_params(axis='y', right=True, left=False, length=0, labelsize=40, pad=14)
ax_dst.axvline(sc_time, ymin=0.571, ymax=1, color=sc_yellow, lw=6, zorder=4)
blend_d = mtransforms.blended_transform_factory(ax_dst.transData, ax_dst.transAxes)
ax_dst.annotate('SC', xy=(sc_time, 0.566), xycoords=blend_d, xytext=(sc_time, 0.342),
                textcoords=blend_d, ha='center', va='center', fontsize=33, zorder=6,
                bbox=dict(boxstyle='square,pad=0.5', fc='#fdfde3', ec='#e8e8d0', lw=1),
                arrowprops=dict(arrowstyle='-|>,head_length=0.9,head_width=0.55',
                                color='#800080', lw=2))

ax_kpb = ax_kp.twinx()
hide_spines(ax_kpb)
sns.barplot(data=kp_df, x='t', y='kp', hue='level', native_scale=True, width=1.0, dodge=False,
            palette={'quiet': '#007a00', 'active': '#ffff00', 'storm': '#ff0000'}, saturation=1,
            edgecolor='black', linewidth=2, errorbar=None, legend=False, ax=ax_kpb)
ax_kpb.set_ylim(-0.23, 25.3)
ax_kpb.set_yticks([])
ax_kpb.set_xlabel('')
ax_kpb.set_ylabel('')

fig.text(47 / W, 1 - 3635 / H, 'Kp-index', rotation=90, fontsize=48, ha='center', va='center')
fig.text(2234 / W, 1 - 3480 / H, 'Dst,nT', rotation=270, fontsize=48, ha='center', va='center')
fig.text(1155 / W, 1 - 3838 / H, 'days of 2012', fontsize=46, ha='center', va='center')

for ax in [ax_imf, ax_sw, ax_ao, ax_axy, ax_aol, ax_kp, ax_dst, ax_kpb]:
    ax.set_xlim(*b_xlim)

fig.savefig('out.png', dpi=100)
